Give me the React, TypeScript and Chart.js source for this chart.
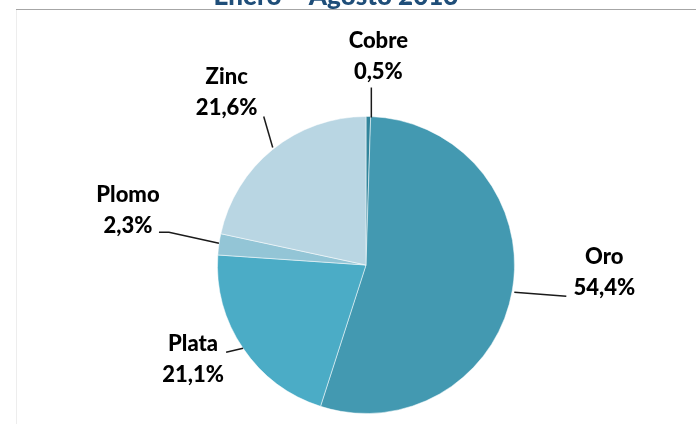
import React, { useEffect, useRef } from "react";
import { Chart, registerables } from "chart.js";

Chart.register(...registerables);

const categories = ["Cobre", "Oro", "Plata", "Plomo", "Zinc"];
const shares = [0.5, 54.4, 21.1, 2.3, 21.6];
const sliceColors = ["#31859C", "#4399B1", "#4BACC6", "#93C5D6", "#B9D6E3"];
const titleText = "Enero \u2013 Agosto 2013";

// label layout: label-centre offset from slice edge midpoint, and leader polyline offsets
const labelLayout = [
  { dx: 10, dy: -61, leader: [[3, 1], [3, -29]] },
  { dx: 92, dy: -18, leader: [[2, 2], [54, 6]] },
  { dx: -50, dy: 11, leader: [[0, 0], [-17, 4]] },
  { dx: -91, dy: -34, leader: [[0, -1], [-50, -12], [-60, -12]] },
  { dx: -46, dy: -58, leader: [[0, -2], [-9, -33]] },
];

const FONT = "900 22px Lato, 'Open Sans', sans-serif";

const fmt = (v: number) => v.toFixed(1).replace(".", ",") + "%";

const framePlugin = {
  id: "frame",
  beforeDraw(chart: any) {
    const ctx = chart.ctx;
    ctx.save();
    ctx.fillStyle = "#ffffff";
    ctx.fillRect(0, 0, chart.width, chart.height);
    ctx.strokeStyle = "#A6A6A6";
    ctx.lineWidth = 1;
    ctx.beginPath();
    ctx.moveTo(16, 9.5);
    ctx.lineTo(chart.width, 9.5);
    ctx.stroke();
    ctx.strokeStyle = "#EDEDED";
    ctx.beginPath();
    ctx.moveTo(16.5, 10);
    ctx.lineTo(16.5, chart.height);
    ctx.stroke();
    ctx.fillStyle = "#1F4E79";
    ctx.font = "900 26px Lato, 'Open Sans', sans-serif";
    ctx.textAlign = "center";
    ctx.textBaseline = "alphabetic";
    ctx.fillText(titleText, 336, 5);
    ctx.restore();
  },
};

const labelPlugin = {
  id: "pieLabels",
  afterDatasetsDraw(chart: any) {
    const ctx = chart.ctx;
    const meta = chart.getDatasetMeta(0);
    ctx.save();
    meta.data.forEach((arc: any, i: number) => {
      const p = arc.getProps(["x", "y", "startAngle", "endAngle", "outerRadius"], true);
      const mid = (p.startAngle + p.endAngle) / 2;
      const ex = p.x + Math.cos(mid) * p.outerRadius;
      const ey = p.y + Math.sin(mid) * p.outerRadius;
      const lay = labelLayout[i];
      ctx.strokeStyle = "#1a1a1a";
      ctx.lineWidth = 1.5;
      ctx.beginPath();
      lay.leader.forEach((pt: number[], k: number) => {
        if (k === 0) ctx.moveTo(ex + pt[0], ey + pt[1]);
        else ctx.lineTo(ex + pt[0], ey + pt[1]);
      });
      ctx.stroke();
      const cx = ex + lay.dx;
      const cy = ey + lay.dy;
      ctx.fillStyle = "#000000";
      ctx.font = FONT;
      ctx.textAlign = "center";
      ctx.textBaseline = "middle";
      ctx.fillText(categories[i], cx, cy - 15);
      ctx.fillText(fmt(shares[i]), cx, cy + 16);
    });
    ctx.restore();
  },
};

export default function App() {
  const ref = useRef<HTMLCanvasElement>(null);
  useEffect(() => {
    if (!ref.current) return;
    const chart = new Chart(ref.current, {
      type: "pie",
      data: {
        labels: categories,
        datasets: [
          {
            data: shares,
            backgroundColor: sliceColors,
            borderColor: "rgba(255,255,255,0.5)",
            borderWidth: 1,
          },
        ],
      },
      options: {
        responsive: false,
        animation: false,
        devicePixelRatio: 1,
        layout: { padding: { left: 217, right: 181, top: 116, bottom: 10 } },
        plugins: {
          legend: { display: false },
          tooltip: { enabled: false },
          title: { display: false },
        },
      },
      plugins: [framePlugin, labelPlugin],
    });
    return () => chart.destroy();
  }, []);
  return (
    <div style={{ position: "absolute", left: 0, top: 0, width: 696, height: 424 }}>
      <canvas ref={ref} width={696} height={424} />
    </div>
  );
}
